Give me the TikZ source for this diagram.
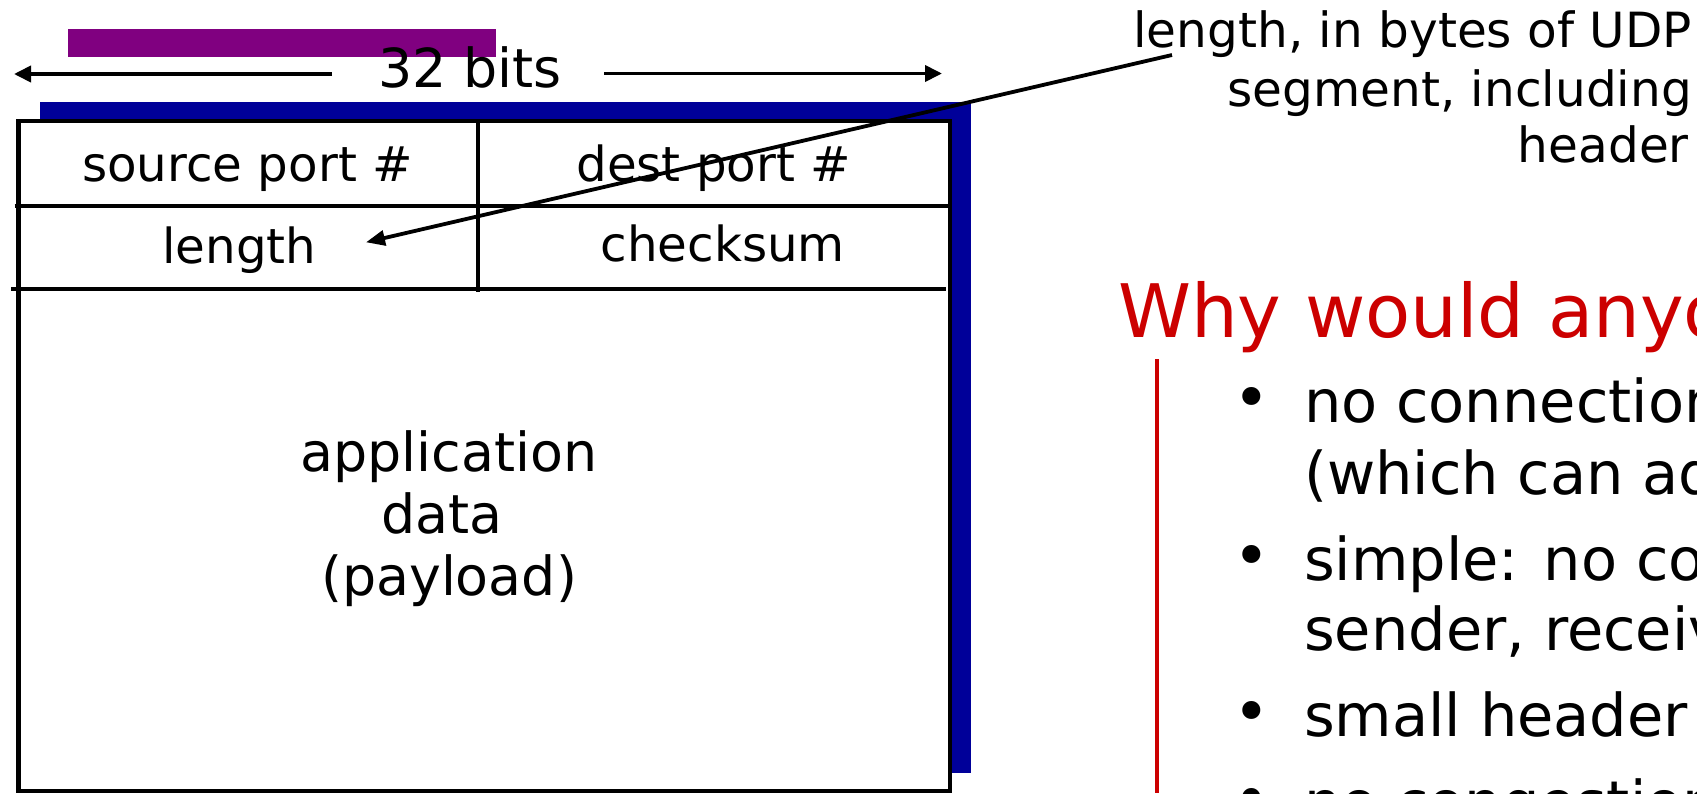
\documentclass[tikz,border=0pt]{standalone}
\usepackage{fontspec}
\setmainfont{DejaVu Sans}
\usetikzlibrary{arrows.meta}
\definecolor{upurple}{RGB}{128,0,128}
\definecolor{ublue}{RGB}{0,0,153}
\definecolor{ured}{RGB}{204,0,0}
\begin{document}
\begin{tikzpicture}[x=1pt,y=-1pt,
  fieldtxt/.style={inner sep=0pt, anchor=base, font=\fontsize{48.3}{56}\selectfont},
  bigtxt/.style={inner sep=0pt, anchor=base, font=\fontsize{53.8}{62}\selectfont},
  anntxt/.style={inner sep=0pt, anchor=base east, font=\fontsize{48.5}{56}\selectfont},
  bullettxt/.style={inner sep=0pt, anchor=base west, font=\fontsize{59}{70}\selectfont},
  bulletdot/.style={inner sep=0pt, anchor=base, font=\fontsize{62}{70}\selectfont},
  rule/.style={line width=4pt},
  dimarrow/.style={line width=3.8pt, -{Triangle[length=17pt,width=16pt]}},
  annarrow/.style={line width=3.8pt, -{Triangle[length=19pt,width=15pt]}}]
\useasboundingbox (0,0) rectangle (1697,793);
\clip (0,0) rectangle (1697,793);
\fill[white] (0,0) rectangle (1697,793);

% decorations
\fill[upurple] (68,29) rectangle (496,57);
\fill[ublue] (40,102) rectangle (971,773);

% segment box
\draw[line width=4.5pt, fill=white] (18.5,121) rectangle (950,791);
\draw[rule] (14.5,205.5) -- (950,205.5);
\draw[rule] (11,288.5) -- (946,288.5);
\draw[rule] (477.5,121) -- (477.5,292);

% 32 bits
\node[bigtxt] (bits) at (470,87.5) {32 bits};
\coordinate (lstart) at (332,74);
\coordinate (lend) at (14,74);
\coordinate (rstart) at (604,73.5);
\coordinate (rend) at (942,73.5);
\draw[dimarrow] (lstart) -- (lend);
\draw[dimarrow] (rstart) -- (rend);

% fields
\node[fieldtxt] (src) at (247.5,181.7) {source port \#};
\node[fieldtxt] (dst) at (713.7,181.7) {dest port \#};
\node[fieldtxt] (len) at (239.5,263.3) {length};
\node[fieldtxt] (chk) at (722.8,261.5) {checksum};
\node[bigtxt] (app1) at (449,471.7) {application};
\node[bigtxt] (app2) at (442,533.5) {data};
\node[bigtxt] (app3) at (449,595) {(payload)};

% annotation
\node[anntxt] (ann1) at (1692,47.3) {length, in bytes of UDP};
\node[anntxt] (ann2) at (1692,106) {segment, including};
\node[anntxt] (ann3) at (1689,162.7) {header};
\coordinate (annfrom) at (1172,55);
\coordinate (annto) at (366,242.3);
\draw[annarrow] (annfrom) -- (annto);

% right-hand text
\node[inner sep=0pt, anchor=base west, font=\fontsize{73.8}{90}\selectfont, text=ured] (title) at (1118,337) {Why would anyone use UDP?};
\coordinate (redtop) at (1157,359);
\coordinate (redbot) at (1157,793);
\draw[ured, line width=3.5pt] (redtop) -- (redbot);

\node[bulletdot] (b1) at (1252,419) {•};
\node[bullettxt] (t1a) at (1304,422.3) {no connection};
\node[bullettxt] (t1b) at (1304,494.3) {(which can add};
\node[bulletdot] (b2) at (1252,577) {•};
\node[bullettxt] (t2a) at (1304,580) {simple: no connection};
\node[bullettxt] (t2b) at (1304,650) {sender, receiver};
\node[bulletdot] (b3) at (1252,733.5) {•};
\node[bullettxt] (t3a) at (1304,736.7) {small header size};
\node[bulletdot] (b4) at (1252,820) {•};
\node[bullettxt] (t4a) at (1304,823) {no congestion};
\end{tikzpicture}
\end{document}
